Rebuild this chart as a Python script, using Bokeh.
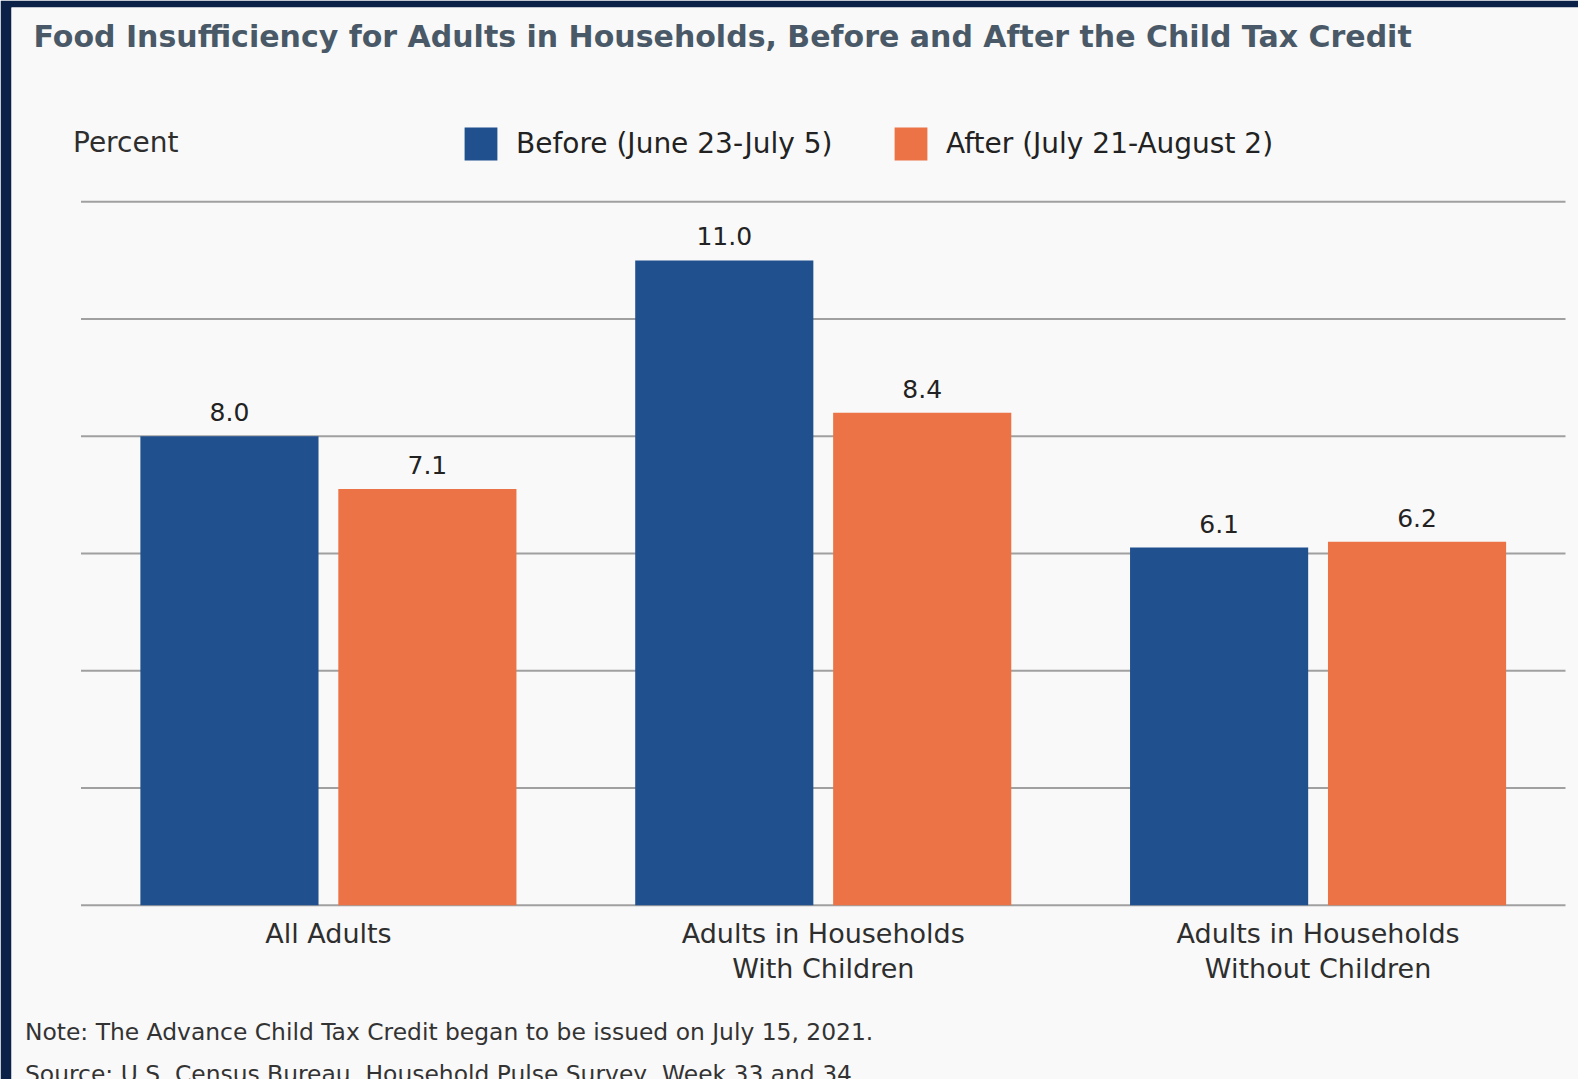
from bokeh.plotting import figure
from bokeh.models import ColumnDataSource, Range1d, Legend, LegendItem
from bokeh.transform import dodge
from bokeh.embed import file_html
from bokeh.resources import INLINE
from bokeh.core.properties import value

# ---- data ----
categories = ["All Adults",
              "Adults in Households\nWith Children",
              "Adults in Households\nWithout Children"]
before = [8.0, 11.0, 6.1]
after = [7.1, 8.4, 6.2]
series_names = ["Before (June 23-July 5)", "After (July 21-August 2)"]
y_ticks = [0, 2, 4, 6, 8, 10, 12]

title_text = "Food Insufficiency for Adults in Households, Before and After the Child Tax Credit"
unit_text = "Percent"
note_text = "Note: The Advance Child Tax Credit began to be issued on July 15, 2021."
source_text = "Source: U.S. Census Bureau, Household Pulse Survey, Week 33 and 34."

# ---- style / layout ----
BLUE = "#21508f"
ORANGE = "#ec7346"
BG = "#f9f9f9"
NAVY = "#0b2148"
TXT = "#222222"
GRID = "#a0a0a0"
BODY_FONT = "DejaVu Sans"

W, H = 1578, 1079
FRAME_LEFT, FRAME_TOP = 11, 7          # navy frame strips
CAT0_PX, PX_PER_CAT = 80.5, 494.83     # page x of category axis start, px per category
ZERO_PX, PX_PER_UNIT = 904.7, 58.62    # page y of value 0, px per percentage point

def px_x(page_x):
    return (page_x - CAT0_PX) / PX_PER_CAT

def px_y(page_y):
    return (ZERO_PX - page_y) / PX_PER_UNIT

n = len(categories)
xc = [i + 0.5 for i in range(n)]
line1 = [c.split("\n")[0] for c in categories]
line2 = [c.split("\n")[1] if "\n" in c else "" for c in categories]

src = ColumnDataSource(dict(
    xc=xc, before=before, after=after,
    before_lbl=[f"{v:.1f}" for v in before],
    after_lbl=[f"{v:.1f}" for v in after],
    line1=line1, line2=line2,
))

p = figure(x_range=Range1d(px_x(FRAME_LEFT), px_x(W)),
           y_range=Range1d(px_y(H), px_y(FRAME_TOP)),
           width=W, height=H,
           output_backend="svg", toolbar_location=None,
           x_axis_location=None, y_axis_location=None,
           min_border_left=FRAME_LEFT, min_border_top=FRAME_TOP,
           min_border_right=0, min_border_bottom=0)
p.background_fill_color = BG
p.border_fill_color = NAVY
p.outline_line_color = None
p.grid.visible = False

# horizontal grid lines across the category span
p.segment(x0=0, x1=n, y0=y_ticks, y1=y_ticks, line_color=GRID, line_width=2)

r1 = p.vbar(x=dodge("xc", -0.2), top="before", width=0.36,
            source=src, fill_color=BLUE, line_color=None)
r2 = p.vbar(x=dodge("xc", 0.2), top="after", width=0.36,
            source=src, fill_color=ORANGE, line_color=None)

for off, col, lbl in [(-0.2, "before", "before_lbl"), (0.2, "after", "after_lbl")]:
    p.text(x=dodge("xc", off), y=col, text=lbl, source=src,
           text_align="center", text_baseline="alphabetic", y_offset=-24,
           text_font=value(BODY_FONT), text_font_size="25px", text_color=TXT)

# category labels below the baseline
for lbl, off in [("line1", 28.6), ("line2", 63.0)]:
    p.text(x="xc", y=0, text=lbl, source=src, y_offset=off,
           text_align="center", text_baseline="alphabetic",
           text_font=value(BODY_FONT), text_font_size="27px", text_color="#2e2e2e")

def add_text(page_x, page_y, text, size, color=TXT, style="normal", font=BODY_FONT):
    p.text(x=[px_x(page_x)], y=[px_y(page_y)], text=[text],
           text_font=value(font), text_font_size=size, text_color=color,
           text_font_style=style, text_baseline="alphabetic", text_align="left")

add_text(33, 36, title_text, "30px", color="#4a5967", style="bold")
add_text(72.5, 142, unit_text, "28px", color="#2e2e2e")
add_text(24.5, 1031.5, note_text, "23.4px", color="#333333")
add_text(24.5, 1073, source_text, "23.4px", color="#333333")

legend = Legend(items=[LegendItem(label=series_names[0], renderers=[r1]),
                       LegendItem(label=series_names[1], renderers=[r2])],
                orientation="horizontal", location=(460 - FRAME_LEFT, H - 164),
                glyph_width=41, glyph_height=41, label_standoff=15,
                label_width=374, spacing=0, padding=0, margin=0,
                border_line_color=None, background_fill_alpha=0,
                label_text_font=BODY_FONT, label_text_font_size="28px",
                label_text_color="#222222")
p.add_layout(legend)

open("out.html", "w").write(file_html(p, INLINE))
